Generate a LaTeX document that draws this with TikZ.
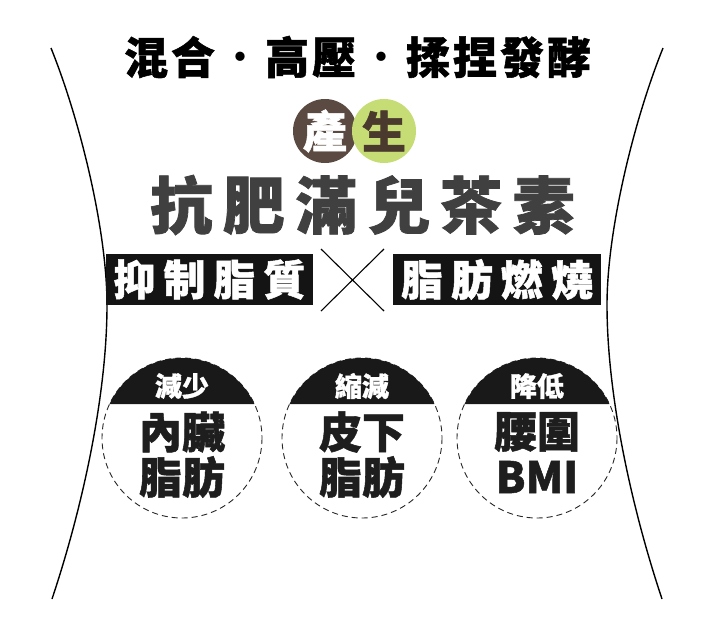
\documentclass[tikz,border=0pt]{standalone}
\usepackage{fontspec}
\newfontfamily\cjk{Noto Sans CJK TC}[BoldFeatures={FakeBold=1.2}]
\definecolor{cbrown}{HTML}{5A4A41}
\definecolor{cgreen}{HTML}{C6DC74}
\definecolor{cgtext}{HTML}{4A3A2E}
\definecolor{cgray}{HTML}{404040}
\definecolor{cdark}{HTML}{1E1E1E}
\newcommand{\fs}[1]{\fontsize{#1}{#1}\selectfont}
\newcommand{\sepdot}{\hspace{3pt}{\mdseries・}\hspace{3pt}}
\begin{document}
\begin{tikzpicture}[x=1pt,y=-1pt,
  body/.style={line width=1.4pt, black},
  barbox/.style={fill=black!92, text=white, inner sep=0pt, minimum width=207pt, minimum height=51pt, font=\cjk\bfseries\fs{42}},
  capfill/.style={fill=black!90},
  dashring/.style={draw=black!85, line width=0.9pt, dash pattern=on 6pt off 4pt},
  captext/.style={text=white, inner sep=0pt, font=\cjk\bfseries\fs{27}},
  maintext/.style={text=cdark, inner sep=0pt, font=\cjk\bfseries\fs{43}},
  crossline/.style={line width=1.1pt, black}]
\useasboundingbox (0,0) rectangle (714,622);
\fill[white] (0,0) rectangle (714,622);

% body outline
\draw[body] (51,48) .. controls (80,120) and (107,230) .. (107,305) .. controls (107,390) and (85,500) .. (52,599);
\draw[body] (663,48) .. controls (634,120) and (607,230) .. (607,305) .. controls (607,390) and (629,500) .. (662,599);

% top line
\node[inner sep=0pt, text=black, font=\cjk\bfseries\fs{44}] (top) at (357.5,57)
  {混\hspace{3pt}合\sepdot 高\hspace{3pt}壓\sepdot 揉\hspace{3pt}捏\hspace{3pt}發\hspace{3pt}酵};

% produce circles
\fill[cbrown] (325,131) circle (32);
\fill[cgreen] (384,131) circle (32);
\node[inner sep=0pt, text=white, font=\cjk\bfseries\fs{44}] (chan) at (325,131) {產};
\node[inner sep=0pt, text=cgtext, font=\cjk\bfseries\fs{44}] (sheng) at (384,131) {生};

% title
\node[inner sep=0pt, text=cgray, font=\cjk\bfseries\fs{62}] (title) at (362.5,205)
  {抗\hspace{10.5pt}肥\hspace{10.5pt}滿\hspace{10.5pt}兒\hspace{10.5pt}茶\hspace{10.5pt}素};

% bars
\node[barbox] (lbar) at (209.5,279.5) {抑\hspace{8pt}制\hspace{8pt}脂\hspace{8pt}質};
\node[barbox, minimum width=208pt] (rbar) at (497,279.5) {脂\hspace{8pt}肪\hspace{8pt}燃\hspace{8pt}燒};

% cross
\coordinate (xa) at (321,249);
\coordinate (xb) at (384,249);
\coordinate (xc) at (321,311);
\coordinate (xd) at (384,311);
\draw[crossline] (xa) -- (xd);
\draw[crossline] (xb) -- (xc);

% bottom circles
\foreach \cx/\nm/\cap/\la/\lb in {182/c1/減少/內臟/脂肪, 362/c2/縮減/皮下/脂肪, 537/c3/降低/腰圍/BMI}{
  \coordinate (\nm) at (\cx,438);
  \draw[dashring] (\nm) circle (80);
  \fill[capfill] (\nm) ++(-25.15:80) arc[start angle=-25.15, end angle=-154.85, radius=80] -- cycle;
  \node[captext] (\nm cap) at (\cx,386) {\cap};
  \node[maintext] (\nm a) at (\cx,432) {\la};
  \node[maintext] (\nm b) at (\cx,477) {\lb};
}
\end{tikzpicture}
\end{document}
